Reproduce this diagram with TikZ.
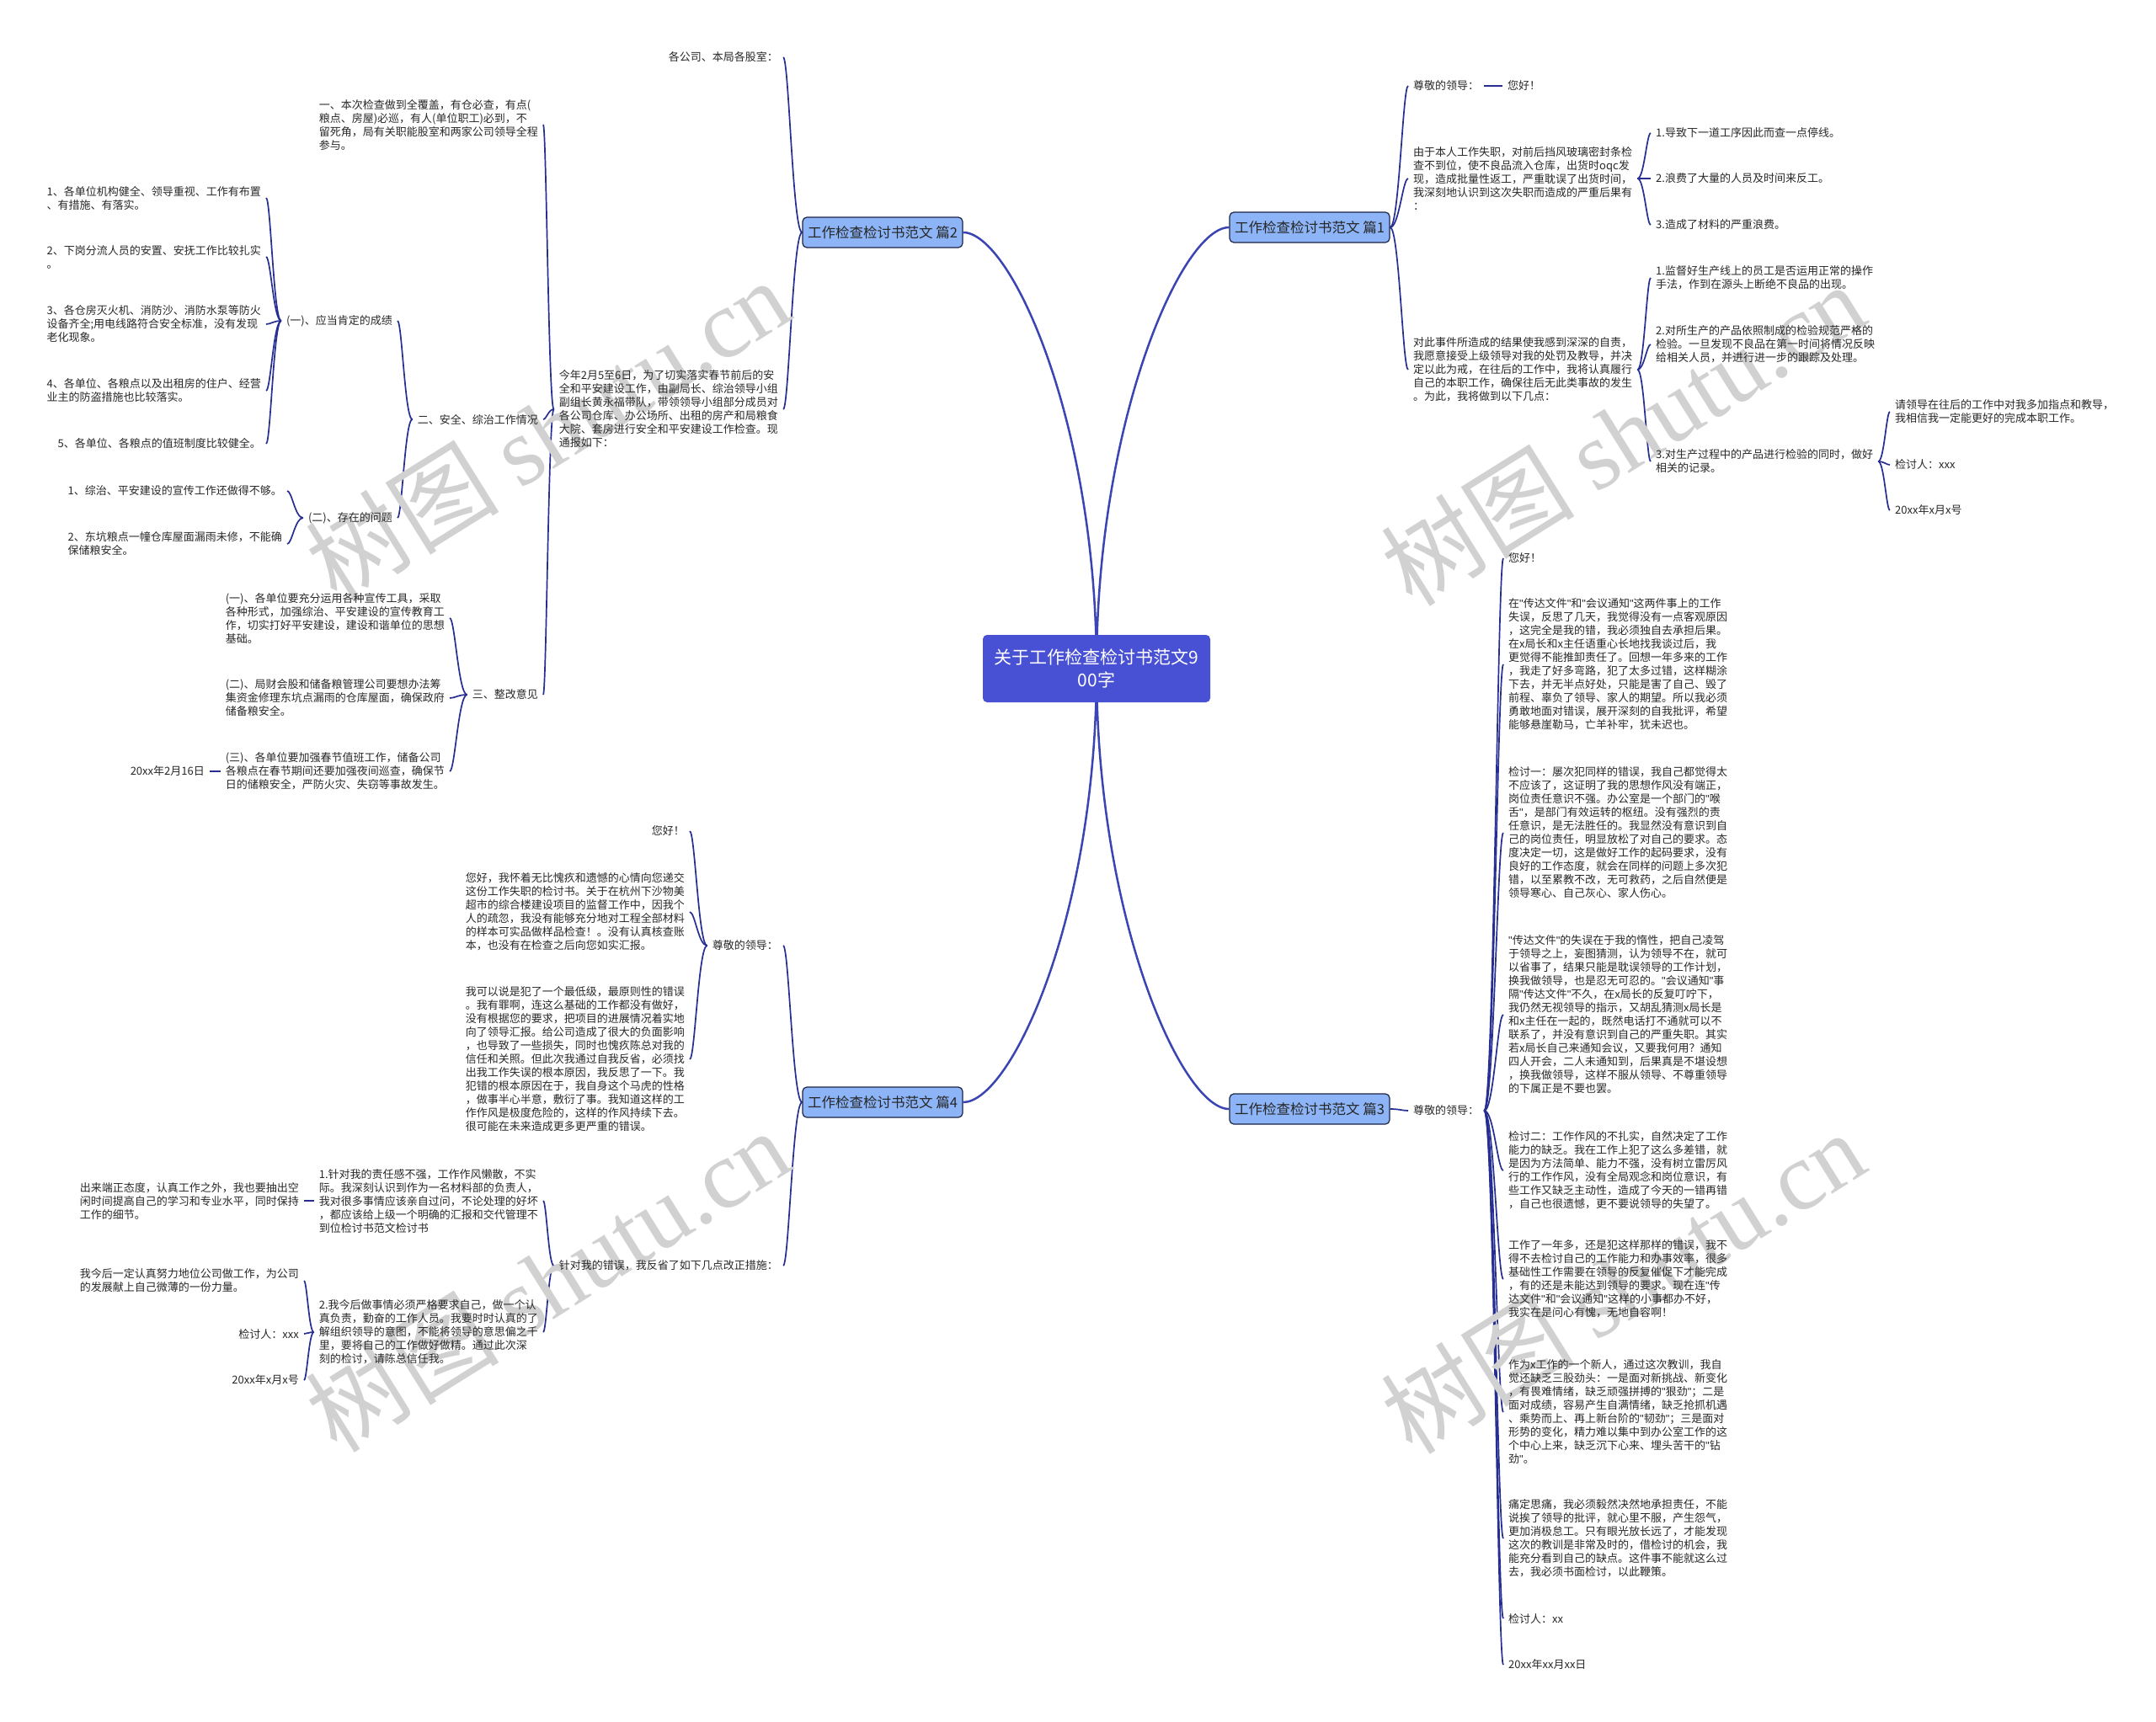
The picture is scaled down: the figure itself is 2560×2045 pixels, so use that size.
\documentclass[tikz,border=0pt]{standalone}
\usepackage{fontspec}
\setmainfont{Noto Sans CJK SC}
\newfontfamily\wmlatin{Liberation Serif}
\newfontfamily\qfont{Liberation Sans}
\newcommand\dq{{\qfont"}}
\usetikzlibrary{calc,backgrounds}
\definecolor{lineblue}{RGB}{38,46,145}
\definecolor{mainblue}{RGB}{58,68,178}
\definecolor{rootfill}{RGB}{72,80,212}
\definecolor{branchfill}{RGB}{141,180,246}
\definecolor{branchdraw}{RGB}{30,36,70}
\definecolor{txtgray}{RGB}{40,40,40}
\tikzset{
  txt/.style={font=\fontsize{13}{16}\selectfont, align=left, inner xsep=6pt, inner ysep=2pt, text=txtgray},
  lt/.style={txt, anchor=east},
  rt/.style={txt, anchor=west},
  conn/.style={draw=lineblue, line width=1.7pt},
  mainconn/.style={draw=mainblue, line width=2.5pt},
  branch/.style={draw=branchdraw, fill=branchfill, rounded corners=5pt, line width=1.2pt, minimum width=190pt, minimum height=36pt, inner sep=0pt, font=\fontsize{16.5}{19}\selectfont, text=black!85},
  rootnode/.style={fill=rootfill, rounded corners=5pt, minimum width=270pt, minimum height=80pt, inner sep=0pt, align=center, text=white, font=\fontsize{21}{27}\selectfont},
  wm/.style={rotate=32, text=black!18, font=\fontsize{115}{115}\selectfont}
}
\newcommand\mmlink[2]{\draw[conn] (#1) .. controls ($(#1)!0.5!(#1 -| #2)$) and ($(#2)!0.3!(#2 -| #1)$) .. (#2);}
\begin{document}
\begin{tikzpicture}[x=1pt,y=-1pt]
\useasboundingbox (0,0) rectangle (2560,2045);

% watermarks
\node[wm] (wm1) at (650,510) {树图 {\wmlatin shutu.cn}};
\node[wm] (wm2) at (1927,515) {树图 {\wmlatin shutu.cn}};
\node[wm] (wm3) at (650,1520) {树图 {\wmlatin shutu.cn}};
\node[wm] (wm4) at (1927,1522) {树图 {\wmlatin shutu.cn}};

% root and branches
\node[rootnode] (root) at (1302,794) {关于工作检查检讨书范文9\\00字};
\node[branch] (b1) at (1555,270) {工作检查检讨书范文 篇1};
\node[branch] (b2) at (1048,276) {工作检查检讨书范文 篇2};
\node[branch] (b3) at (1555,1317) {工作检查检讨书范文 篇3};
\node[branch] (b4) at (1048,1309) {工作检查检讨书范文 篇4};

% ---------- branch 2 ----------
\node[lt] (b2a) at (930,68) {各公司、本局各股室：};
\node[lt] (b2b) at (930,486) {今年2月5至6日，为了切实落实春节前后的安\\全和平安建设工作，由副局长、综治领导小组\\副组长黄永福带队，带领领导小组部分成员对\\各公司仓库、办公场所、出租的房产和局粮食\\大院、套房进行安全和平安建设工作检查。现\\通报如下：};
\node[lt] (b2b1) at (645,148) {一、本次检查做到全覆盖，有仓必查，有点(\\粮点、房屋)必巡，有人(单位职工)必到，不\\留死角，局有关职能股室和两家公司领导全程\\参与。};
\node[lt] (b2b2) at (645,498) {二、安全、综治工作情况};
\node[lt] (b2b3) at (645,825) {三、整改意见};
\node[lt] (c1) at (472,381) {(一)、应当肯定的成绩};
\node[lt] (c2) at (472,615) {(二)、存在的问题};
\node[lt] (c11) at (316,235) {1、各单位机构健全、领导重视、工作有布置\\、有措施、有落实。};
\node[lt] (c12) at (316,305) {2、下岗分流人员的安置、安抚工作比较扎实\\。};
\node[lt] (c13) at (316,385) {3、各仓房灭火机、消防沙、消防水泵等防火\\设备齐全;用电线路符合安全标准，没有发现\\老化现象。};
\node[lt] (c14) at (316,464) {4、各单位、各粮点以及出租房的住户、经营\\业主的防盗措施也比较落实。};
\node[lt] (c15) at (316,527) {5、各单位、各粮点的值班制度比较健全。};
\node[lt] (c21) at (341,583) {1、综治、平安建设的宣传工作还做得不够。};
\node[lt] (c22) at (341,646) {2、东坑粮点一幢仓库屋面漏雨未修，不能确\\保储粮安全。};
\node[lt] (d1) at (534,734) {(一)、各单位要充分运用各种宣传工具，采取\\各种形式，加强综治、平安建设的宣传教育工\\作，切实打好平安建设，建设和谐单位的思想\\基础。};
\node[lt] (d2) at (534,829) {(二)、局财会股和储备粮管理公司要想办法筹\\集资金修理东坑点漏雨的仓库屋面，确保政府\\储备粮安全。};
\node[lt] (d3) at (534,916) {(三)、各单位要加强春节值班工作，储备公司\\各粮点在春节期间还要加强夜间巡查，确保节\\日的储粮安全，严防火灾、失窃等事故发生。};
\node[lt] (d31) at (249,916) {20xx年2月16日};

% ---------- branch 4 ----------
\node[lt] (e1) at (930,1123) {尊敬的领导：};
\node[lt] (e2) at (930,1503) {针对我的错误，我反省了如下几点改正措施：};
\node[lt] (e11) at (819,987) {您好！};
\node[lt] (e12) at (819,1083) {您好，我怀着无比愧疚和遗憾的心情向您递交\\这份工作失职的检讨书。关于在杭州下沙物美\\超市的综合楼建设项目的监督工作中，因我个\\人的疏忽，我没有能够充分地对工程全部材料\\的样本可实品做样品检查！。没有认真核查账\\本，也没有在检查之后向您如实汇报。};
\node[lt] (e13) at (819,1258) {我可以说是犯了一个最低级，最原则性的错误\\。我有罪啊，连这么基础的工作都没有做好，\\没有根据您的要求，把项目的进展情况着实地\\向了领导汇报。给公司造成了很大的负面影响\\，也导致了一些损失，同时也愧疚陈总对我的\\信任和关照。但此次我通过自我反省，必须找\\出我工作失误的根本原因，我反思了一下。我\\犯错的根本原因在于，我自身这个马虎的性格\\，做事半心半意，敷衍了事。我知道这样的工\\作作风是极度危险的，这样的作风持续下去。\\很可能在未来造成更多更严重的错误。};
\node[lt] (e21) at (645,1426) {1.针对我的责任感不强，工作作风懒散，不实\\际。我深刻认识到作为一名材料部的负责人，\\我对很多事情应该亲自过问，不论处理的好坏\\，都应该给上级一个明确的汇报和交代管理不\\到位检讨书范文检讨书};
\node[lt] (e22) at (645,1582) {2.我今后做事情必须严格要求自己，做一个认\\真负责，勤奋的工作人员。我要时时认真的了\\解组织领导的意图，不能将领导的意思偏之千\\里，要将自己的工作做好做精。通过此次深\\刻的检讨，请陈总信任我。};
\node[lt] (e211) at (361,1426) {出来端正态度，认真工作之外，我也要抽出空\\闲时间提高自己的学习和专业水平，同时保持\\工作的细节。};
\node[lt] (e221) at (361,1521) {我今后一定认真努力地位公司做工作，为公司\\的发展献上自己微薄的一份力量。};
\node[lt] (e222) at (361,1584) {检讨人：xxx};
\node[lt] (e223) at (361,1639) {20xx年x月x号};

% ---------- branch 1 ----------
\node[rt] (f1) at (1672,102) {尊敬的领导：};
\node[rt] (f11) at (1784,102) {您好！};
\node[rt] (f2) at (1672,212) {由于本人工作失职，对前后挡风玻璃密封条检\\查不到位，使不良品流入仓库，出货时oqc发\\现，造成批量性返工，严重耽误了出货时间，\\我深刻地认识到这次失职而造成的严重后果有\\：};
\node[rt] (f21) at (1960,158) {1.导致下一道工序因此而查一点停线。};
\node[rt] (f22) at (1960,212) {2.浪费了大量的人员及时间来反工。};
\node[rt] (f23) at (1960,267) {3.造成了材料的严重浪费。};
\node[rt] (f3) at (1672,439) {对此事件所造成的结果使我感到深深的自责，\\我愿意接受上级领导对我的处罚及教导，并决\\定以此为戒，在往后的工作中，我将认真履行\\自己的本职工作，确保往后无此类事故的发生\\。为此，我将做到以下几点：};
\node[rt] (f31) at (1960,330) {1.监督好生产线上的员工是否运用正常的操作\\手法，作到在源头上断绝不良品的出现。};
\node[rt] (f32) at (1960,409) {2.对所生产的产品依照制成的检验规范严格的\\检验。一旦发现不良品在第一时间将情况反映\\给相关人员，并进行进一步的跟踪及处理。};
\node[rt] (f33) at (1960,548) {3.对生产过程中的产品进行检验的同时，做好\\相关的记录。};
\node[rt] (f331) at (2244,489) {请领导在往后的工作中对我多加指点和教导，\\我相信我一定能更好的完成本职工作。};
\node[rt] (f332) at (2244,552) {检讨人：xxx};
\node[rt] (f333) at (2244,606) {20xx年x月x号};

% ---------- branch 3 ----------
\node[rt] (g) at (1672,1319) {尊敬的领导：};
\node[rt] (g1) at (1785,663) {您好！};
\node[rt] (g2) at (1785,789) {在\dq 传达文件\dq 和\dq 会议通知\dq 这两件事上的工作\\失误，反思了几天，我觉得没有一点客观原因\\，这完全是我的错，我必须独自去承担后果。\\在x局长和x主任语重心长地找我谈过后，我\\更觉得不能推卸责任了。回想一年多来的工作\\，我走了好多弯路，犯了太多过错，这样糊涂\\下去，并无半点好处，只能是害了自己、毁了\\前程、辜负了领导、家人的期望。所以我必须\\勇敢地面对错误，展开深刻的自我批评，希望\\能够悬崖勒马，亡羊补牢，犹未迟也。};
\node[rt] (g3) at (1785,989) {检讨一：屡次犯同样的错误，我自己都觉得太\\不应该了，这证明了我的思想作风没有端正，\\岗位责任意识不强。办公室是一个部门的\dq 喉\\舌\dq ，是部门有效运转的枢纽。没有强烈的责\\任意识，是无法胜任的。我显然没有意识到自\\己的岗位责任，明显放松了对自己的要求。态\\度决定一切，这是做好工作的起码要求，没有\\良好的工作态度，就会在同样的问题上多次犯\\错，以至累教不改，无可救药，之后自然便是\\领导寒心、自己灰心、家人伤心。};
\node[rt] (g4) at (1785,1205) {\dq 传达文件\dq 的失误在于我的惰性，把自己凌驾\\于领导之上，妄图猜测，认为领导不在，就可\\以省事了，结果只能是耽误领导的工作计划，\\换我做领导，也是忍无可忍的。\dq 会议通知\dq 事\\隔\dq 传达文件\dq 不久，在x局长的反复叮咛下，\\我仍然无视领导的指示，又胡乱猜测x局长是\\和x主任在一起的，既然电话打不通就可以不\\联系了，并没有意识到自己的严重失职。其实\\若x局长自己来通知会议，又要我何用？通知\\四人开会，二人未通知到，后果真是不堪设想\\，换我做领导，这样不服从领导、不尊重领导\\的下属正是不要也罢。};
\node[rt] (g5) at (1785,1390) {检讨二：工作作风的不扎实，自然决定了工作\\能力的缺乏。我在工作上犯了这么多差错，就\\是因为方法简单、能力不强，没有树立雷厉风\\行的工作作风，没有全局观念和岗位意识，有\\些工作又缺乏主动性，造成了今天的一错再错\\，自己也很遗憾，更不要说领导的失望了。};
\node[rt] (g6) at (1785,1519) {工作了一年多，还是犯这样那样的错误，我不\\得不去检讨自己的工作能力和办事效率，很多\\基础性工作需要在领导的反复催促下才能完成\\，有的还是未能达到领导的要求。现在连\dq 传\\达文件\dq 和\dq 会议通知\dq 这样的小事都办不好，\\我实在是问心有愧，无地自容啊！};
\node[rt] (g7) at (1785,1677) {作为x工作的一个新人，通过这次教训，我自\\觉还缺乏三股劲头：一是面对新挑战、新变化\\，有畏难情绪，缺乏顽强拼搏的\dq 狠劲\dq ；二是\\面对成绩，容易产生自满情绪，缺乏抢抓机遇\\、乘势而上、再上新台阶的\dq 韧劲\dq ；三是面对\\形势的变化，精力难以集中到办公室工作的这\\个中心上来，缺乏沉下心来、埋头苦干的\dq 钻\\劲\dq 。};
\node[rt] (g8) at (1785,1827) {痛定思痛，我必须毅然决然地承担责任，不能\\说挨了领导的批评，就心里不服，产生怨气，\\更加消极怠工。只有眼光放长远了，才能发现\\这次的教训是非常及时的，借检讨的机会，我\\能充分看到自己的缺点。这件事不能就这么过\\去，我必须书面检讨，以此鞭策。};
\node[rt] (g9) at (1785,1922) {检讨人：xx};
\node[rt] (g10) at (1785,1977) {20xx年xx月xx日};

% ---------- connectors ----------
\begin{scope}[on background layer]
\fill[white] (0,0) rectangle (2560,2045);
\draw[mainconn] (root.center) .. controls (1302,500) and (1200,276) .. (b2.east);
\draw[mainconn] (root.center) .. controls (1302,500) and (1403,270) .. (b1.west);
\draw[mainconn] (root.center) .. controls (1302,1090) and (1200,1309) .. (b4.east);
\draw[mainconn] (root.center) .. controls (1302,1090) and (1403,1317) .. (b3.west);

\mmlink{b2.west}{b2a.east}
\mmlink{b2.west}{b2b.east}
\mmlink{b2b.west}{b2b1.east}
\mmlink{b2b.west}{b2b2.east}
\mmlink{b2b.west}{b2b3.east}
\mmlink{b2b2.west}{c1.east}
\mmlink{b2b2.west}{c2.east}
\mmlink{c1.west}{c11.east}
\mmlink{c1.west}{c12.east}
\mmlink{c1.west}{c13.east}
\mmlink{c1.west}{c14.east}
\mmlink{c1.west}{c15.east}
\mmlink{c2.west}{c21.east}
\mmlink{c2.west}{c22.east}
\mmlink{b2b3.west}{d1.east}
\mmlink{b2b3.west}{d2.east}
\mmlink{b2b3.west}{d3.east}
\mmlink{d3.west}{d31.east}

\mmlink{b4.west}{e1.east}
\mmlink{b4.west}{e2.east}
\mmlink{e1.west}{e11.east}
\mmlink{e1.west}{e12.east}
\mmlink{e1.west}{e13.east}
\mmlink{e2.west}{e21.east}
\mmlink{e2.west}{e22.east}
\mmlink{e21.west}{e211.east}
\mmlink{e22.west}{e221.east}
\mmlink{e22.west}{e222.east}
\mmlink{e22.west}{e223.east}

\mmlink{b1.east}{f1.west}
\mmlink{b1.east}{f2.west}
\mmlink{b1.east}{f3.west}
\mmlink{f1.east}{f11.west}
\mmlink{f2.east}{f21.west}
\mmlink{f2.east}{f22.west}
\mmlink{f2.east}{f23.west}
\mmlink{f3.east}{f31.west}
\mmlink{f3.east}{f32.west}
\mmlink{f3.east}{f33.west}
\mmlink{f33.east}{f331.west}
\mmlink{f33.east}{f332.west}
\mmlink{f33.east}{f333.west}

\mmlink{b3.east}{g.west}
\mmlink{g.east}{g1.west}
\mmlink{g.east}{g2.west}
\mmlink{g.east}{g3.west}
\mmlink{g.east}{g4.west}
\mmlink{g.east}{g5.west}
\mmlink{g.east}{g6.west}
\mmlink{g.east}{g7.west}
\mmlink{g.east}{g8.west}
\mmlink{g.east}{g9.west}
\mmlink{g.east}{g10.west}
\end{scope}
\end{tikzpicture}
\end{document}
